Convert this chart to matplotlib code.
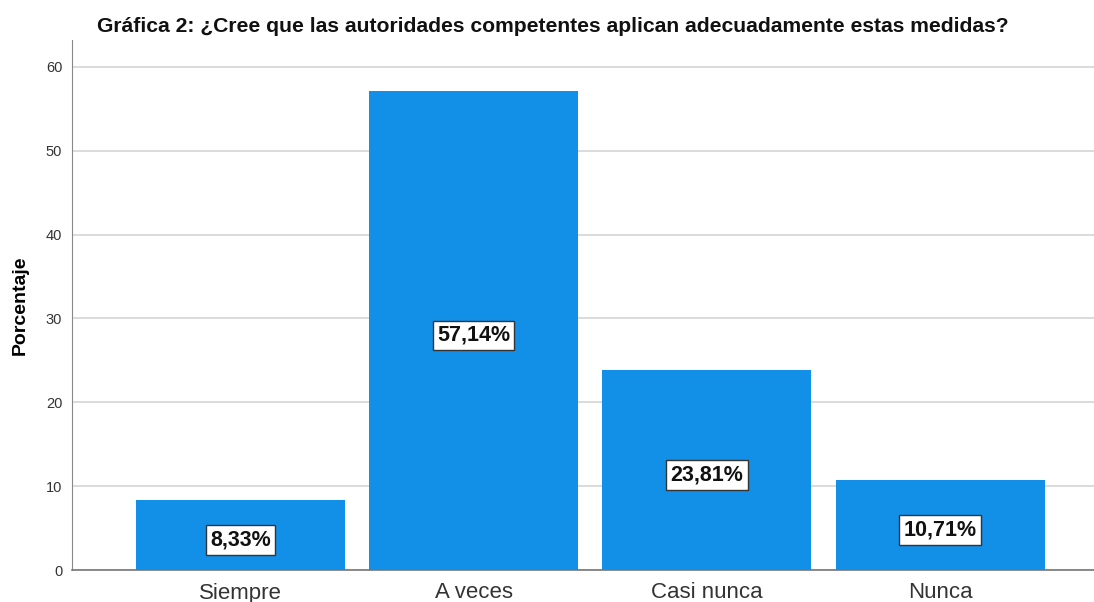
import matplotlib.pyplot as plt

plt.rcParams['font.family'] = ['Liberation Sans', 'DejaVu Sans']

categorias = ['Siempre', 'A veces', 'Casi nunca', 'Nunca']
porcentajes = [8.33, 57.14, 23.81, 10.71]
etiquetas = ['8,33%', '57,14%', '23,81%', '10,71%']

fig = plt.figure(figsize=(10.94, 6.02), dpi=100)
ax = fig.add_axes([72/1094, 32/602, 1 - 72/1094, (570-40)/602])

x = list(range(len(categorias)))
ax.bar(x, porcentajes, width=0.896, color='#1290e8', zorder=3)
for xi, v, lab in zip(x, porcentajes, etiquetas):
    # etiqueta centrada a media altura de la barra
    ax.annotate(lab, (xi, v / 2), xytext=(0, -3.6), textcoords='offset points',
                ha='center', va='center', fontsize=15.5, fontweight='bold',
                color='#111111', zorder=4,
                bbox=dict(boxstyle='square,pad=0.2', facecolor='white', edgecolor='#333333', linewidth=1))

ax.set_xlim(-0.722, 3.66)
ax.set_ylim(0, 63.2)
ax.set_yticks([0, 10, 20, 30, 40, 50, 60])
ax.yaxis.grid(True, color='#d4d4d4', linewidth=1.2, zorder=0)
ax.set_xticks(x)
ax.set_xticklabels(categorias, fontsize=16, color='#333333')
ax.tick_params(axis='y', length=0, labelsize=10.5, labelcolor='#333333', pad=7)
ax.tick_params(axis='x', length=0, pad=9)
for s in ['top', 'right']:
    ax.spines[s].set_visible(False)
ax.spines['left'].set_color('#888888')
ax.spines['bottom'].set_color('#777777')
ax.spines['bottom'].set_linewidth(1.2)
ax.set_ylabel('Porcentaje', fontsize=14, fontweight='bold', labelpad=12)

fig.text(0.505, 1 - 27/602, 'Gráfica 2: ¿Cree que las autoridades competentes aplican adecuadamente estas medidas?',
         ha='center', va='center', fontsize=15.2, fontweight='bold', color='#111111')

fig.savefig('out.png', dpi=100)
